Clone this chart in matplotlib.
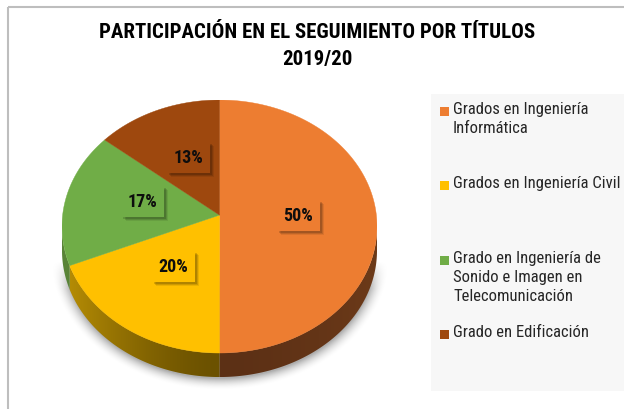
import numpy as np
import matplotlib
matplotlib.use("Agg")
import matplotlib.pyplot as plt
import matplotlib.patheffects as pe
from matplotlib.patches import Polygon, Rectangle
from matplotlib.colors import to_rgb

# datos del seguimiento 2019/20
titulos = [
    "Grados en Ingeniería\nInformática",
    "Grados en Ingeniería Civil",
    "Grado en Ingeniería de\nSonido e Imagen en\nTelecomunicación",
    "Grado en Edificación",
]
porcentajes = [50, 20, 17, 13]
colores = ["#ED7D31", "#FFC000", "#70AD47", "#9E480E"]
# lateral del cilindro: (borde, frente)
colores_lado = [("#6C3A19", "#5C3015"), ("#BA9005", "#6B5100"),
                ("#5A8538", "#4A7030"), ("#7A380B", "#6A300A")]

titulo = "PARTICIPACIÓN EN EL SEGUIMIENTO POR TÍTULOS\n2019/20"

W, H = 624, 410
CX, CY, RX, RY = 219.5, 227.5, 157.5, 126.5
PROF = 0.19      # grosor del lateral (unidades del radio vertical)
APEX_Y = 0.09    # vértice desplazado por la perspectiva

FUENTE = ["Roboto Condensed", "DejaVu Sans"]

fig = plt.figure(figsize=(W / 100, H / 100), dpi=100)
fig.patch.set_facecolor("white")

# capa de fondo en píxeles: marco, sombra y caja de leyenda
bg = fig.add_axes([0, 0, 1, 1])
bg.set_xlim(0, W)
bg.set_ylim(H, 0)
bg.axis("off")
bg.plot([7.5, 7.5], [H, 7.5], color="#BEBEBE", lw=1.5, solid_capstyle="butt")
bg.plot([7.5, W], [7.5, 7.5], color="#BEBEBE", lw=1.5, solid_capstyle="butt")

# sombra difusa bajo el cilindro
yy, xx = np.mgrid[0:H, 0:W] + 0.5
r = np.sqrt(((xx - 220) / 160.0) ** 2 + ((yy - 256) / 127.0) ** 2)
alpha = np.clip(1 - (r - 0.97) / 0.10, 0, 1) ** 2 * 0.32
alpha *= np.clip((yy - 262) / 28.0, 0, 1)
sombra = np.zeros((H, W, 4))
sombra[..., 3] = alpha
bg.imshow(sombra, extent=(0, W, H, 0), interpolation="bilinear", zorder=1)

bg.add_patch(Rectangle((431, 95), W - 431, 297, fc="#F7F7F7", ec="none", zorder=2))

fig.text(317 / W, 1 - 46 / H, titulo, ha="center", va="center", fontsize=15,
         fontweight="bold", family=FUENTE, color="#000000", linespacing=1.6)

# eje de la tarta: x en [-1, 1], y en [-1-PROF, 1]
ax = fig.add_axes([(CX - RX) / W, (H - (CY + RY * (1 + PROF))) / H,
                   2 * RX / W, RY * (2 + PROF) / H])
ax.set_xlim(-1, 1)
ax.set_ylim(-1 - PROF, 1)
ax.axis("off")
ax.patch.set_alpha(0)

frac = np.array(porcentajes) / sum(porcentajes)
fin = np.cumsum(frac)
ini = fin - frac
t1 = 90 - 360 * ini
t2 = 90 - 360 * fin

# lateral frontal (ángulos entre -180 y 0) con degradado horizontal
xg = np.linspace(-1, 1, 600)
peso = np.abs(xg) ** 1.5
for a, b, (c_borde, c_frente) in zip(t1, t2, colores_lado):
    hi = min(a, 0.0)
    lo = max(b, -180.0)
    if hi <= lo:
        continue
    th = np.radians(np.linspace(hi, lo, 200))
    arriba = np.column_stack([np.cos(th), np.sin(th)])
    abajo = arriba[::-1] - [0, PROF]
    lado = Polygon(np.vstack([arriba, abajo]), closed=True, fc="none", ec="none",
                   transform=ax.transData)
    ax.add_patch(lado)
    cb, cf = np.array(to_rgb(c_borde)), np.array(to_rgb(c_frente))
    grad = cf[None, :] + (cb - cf)[None, :] * peso[:, None]
    im = ax.imshow(grad[None, :, :], extent=(-1, 1, -1 - PROF, 0), aspect="auto",
                   interpolation="bilinear", zorder=2)
    im.set_clip_path(lado)

ax.set_xlim(-1, 1)
ax.set_ylim(-1 - PROF, 1)

# cara superior
for a, b, c in zip(t1, t2, colores):
    th = np.radians(np.linspace(a, b, 200))
    pts = np.column_stack([np.cos(th), np.sin(th)])
    pts = np.vstack([[0, APEX_Y], pts])
    ax.add_patch(Polygon(pts, closed=True, fc=c, ec=c, lw=0.3, zorder=3))

# etiquetas de porcentaje con sombra
for a, b, c, v in zip(t1, t2, colores, porcentajes):
    m = np.radians((a + b) / 2)
    x, y = 0.5 * np.cos(m), APEX_Y + 0.5 * np.sin(m)
    t = ax.text(x, y, f"{v}%", ha="center", va="center", fontsize=13,
                fontweight="bold", family=FUENTE, color="#0D0D0D", zorder=5,
                bbox=dict(boxstyle="square,pad=0.36", fc=c, ec="none"))
    t.get_bbox_patch().set_path_effects([
        pe.SimplePatchShadow(offset=(3.2, -3.2), shadow_rgbFace="black", alpha=0.08),
        pe.SimplePatchShadow(offset=(2.4, -2.4), shadow_rgbFace="black", alpha=0.12),
        pe.SimplePatchShadow(offset=(1.4, -1.4), shadow_rgbFace="black", alpha=0.15),
        pe.Normal()])

# leyenda
for i, (lab, c) in enumerate(zip(titulos, colores)):
    yc = 112.5 + i * 74.3
    bg.add_patch(Rectangle((440, yc - 4.5), 9, 9, fc=c, ec="none", zorder=3))
    bg.text(453, yc - 10.5, lab, ha="left", va="top", fontsize=12,
            family=FUENTE, color="#262626", linespacing=1.36, zorder=3)

fig.savefig("out.png", dpi=100)
